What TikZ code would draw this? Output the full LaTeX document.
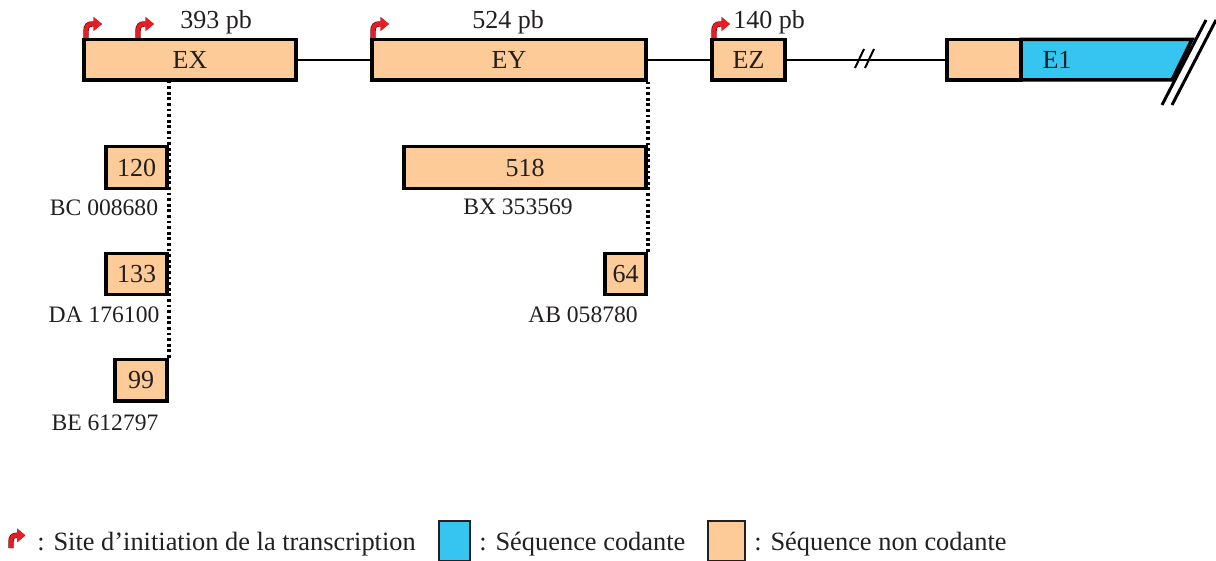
\documentclass[tikz,border=0pt]{standalone}
\usepackage{fontspec}
\setmainfont{Liberation Serif}
\usetikzlibrary{fit,arrows.meta}
\definecolor{noncod}{RGB}{252,203,151}
\definecolor{cod}{RGB}{53,197,240}
\definecolor{promred}{RGB}{232,28,36}
\definecolor{promdark}{RGB}{110,10,10}
\definecolor{ink}{RGB}{35,31,32}

\tikzset{
  exon/.style={draw=black, line width=1.75pt, fill=noncod, inner sep=0pt},
  lbl/.style={font=\fontsize{13}{15}\selectfont, text=ink, inner sep=0pt},
  acc/.style={font=\fontsize{11.8}{14}\selectfont, text=ink, inner sep=0pt, anchor=base},
  leg/.style={font=\fontsize{13.2}{16}\selectfont, text=ink, inner sep=0pt, anchor=base west},
  legbox/.style={draw=ink, line width=0.9pt, inner sep=0pt},
  intron/.style={line width=1pt, black},
  dotline/.style={line width=2pt, black, dash pattern=on 1.4pt off 1.4pt},
  cut/.style={line width=1.5pt, black},
  promline/.style={line width=2pt, promred,
    preaction={draw=promdark, line width=2.7pt},
    -{Triangle[length=4.2pt, width=6.6pt]}},
  prom/.pic={\draw[promline] (0,0) -- (0,-7) .. controls (0,-12) and (2,-14) .. (6,-14) -- (16,-14);}
}

\begin{document}
\begin{tikzpicture}[x=0.5pt, y=-0.5pt]
\useasboundingbox (0,0) rectangle (1216,561);

% main exons
\node[exon, fit={(84,39.5) (296,80)}, label={[lbl]center:EX}] (ex) {};
\node[exon, fit={(372,39.5) (646,80)}, label={[lbl]center:EY}] (ey) {};
\node[exon, fit={(712,39.5) (785,80)}, label={[lbl]center:EZ}] (ez) {};

% exon 1: non-coding then coding part, cut on the right
\draw[exon, fill=cod] (1021,39.5) -- (1192,39.5) -- (1172,80) -- (1021,80) -- cycle;
\node[lbl] (e1) at (1057,60) {E1};
\node[exon, fit={(947,39.5) (1021,80)}] (e0) {};
\draw[cut] (1162,105) -- (1206,20);
\draw[cut] (1172,105) -- (1216,20);

% introns
\draw[intron] (ex.east) -- (ey.west);
\draw[intron] (ey.east) -- (ez.west);
\draw[intron] (ez.east) -- (e0.west);
\draw[cut, line width=1pt] (855,68) -- (864,49);
\draw[cut, line width=1pt] (865,68) -- (874,49);

% sizes
\node[lbl, anchor=base] (sx) at (216,29) {393 pb};
\node[lbl, anchor=base] (sy) at (508,29) {524 pb};
\node[lbl, anchor=base west] (sz) at (733,29) {140 pb};

% transcription start sites
\pic at (86,38) {prom};
\pic at (138,38) {prom};
\pic at (373,38) {prom};
\pic at (714,38) {prom};

% alternative first exons
\node[exon, fit={(106,146.5) (167,188.5)}, label={[lbl]center:120}] (b120) {};
\node[exon, fit={(106,253.5) (167,294.5)}, label={[lbl]center:133}] (b133) {};
\node[exon, fit={(115,359.5) (167,401)}, label={[lbl]center:99}] (b99) {};
\node[exon, fit={(404,146.5) (646,188.5)}, label={[lbl]center:518}] (b518) {};
\node[exon, fit={(605,253.5) (646,294.5)}, label={[lbl]center:64}] (b64) {};

\draw[dotline] (b99.north east) -- (b99.north east |- ex.south);
\draw[dotline] (b64.north east) -- (b64.north east |- ey.south);

% accession numbers
\node[acc] (a1) at (104,216) {BC 008680};
\node[acc] (a2) at (104,323) {DA 176100};
\node[acc] (a3) at (105,430) {BE 612797};
\node[acc] (a4) at (518,215) {BX 353569};
\node[acc] (a5) at (583,323) {AB 058780};

% legend
\pic[scale=0.9] at (11,548) {prom};
\node[leg] (l1) at (37,550) {: Site d’initiation de la transcription};
\node[legbox, fill=cod, fit={(439,521) (470,561)}] (k1) {};
\node[leg] (l2) at (479,550) {: Séquence codante};
\node[legbox, fill=noncod, fit={(708,521) (745,561)}] (k2) {};
\node[leg] (l3) at (754,550) {: Séquence non codante};
\end{tikzpicture}
\end{document}
